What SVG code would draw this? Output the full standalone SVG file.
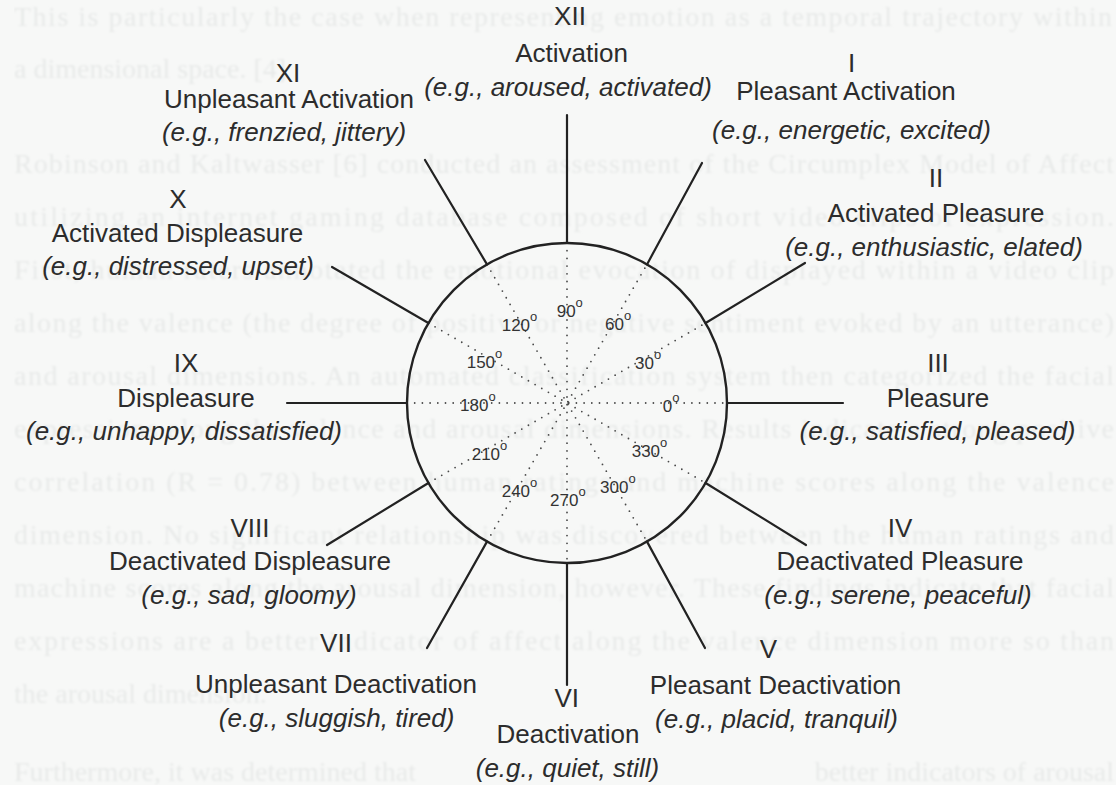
<svg xmlns="http://www.w3.org/2000/svg" width="1116" height="785" viewBox="0 0 1116 785">
<style>
.bg{font-family:"Liberation Serif","Times New Roman",serif;font-size:28px;fill:#e8eae9}
.lab{font-family:"Liberation Sans",Arial,sans-serif;font-size:26px;fill:#2c2c2c;text-anchor:middle}
.ex{font-style:italic}
.deg{font-family:"Liberation Sans",Arial,sans-serif;font-size:17px;fill:#333}
.sup{font-size:13px}
.spoke{stroke:#222;stroke-width:2.2;fill:none;stroke-linecap:round}
.dot{stroke:#4a4a4a;stroke-width:1.8;stroke-dasharray:0 7.7;stroke-linecap:round;fill:none}
</style>
<defs>
<filter id="soft" x="0" y="0" width="1" height="1"><feGaussianBlur stdDeviation="0.9"/></filter>
</defs>
<rect width="1116" height="785" fill="#f7f8f7"/>
<g id="background-text" class="bg" filter="url(#soft)">
<text x="14" y="26" textLength="1098" lengthAdjust="spacing">This is particularly the case when representing emotion as a temporal trajectory within</text>
<text x="14" y="78">a dimensional space. [4]</text>
<text x="14" y="173" textLength="1100" lengthAdjust="spacing">Robinson and Kaltwasser [6] conducted an assessment of the Circumplex Model of Affect</text>
<text x="14" y="226" textLength="1100" lengthAdjust="spacing">utilizing an internet gaming database composed of short video clips of expression.</text>
<text x="14" y="279" textLength="1100" lengthAdjust="spacing">First, human raters annotated the emotional evocation of displayed within a video clip</text>
<text x="14" y="332" textLength="1100" lengthAdjust="spacing">along the valence (the degree of positive or negative sentiment evoked by an utterance)</text>
<text x="14" y="385" textLength="1100" lengthAdjust="spacing">and arousal dimensions. An automated classification system then categorized the facial</text>
<text x="14" y="438" textLength="1100" lengthAdjust="spacing">expressions along the valence and arousal dimensions. Results indicate a strong positive</text>
<text x="14" y="491" textLength="1100" lengthAdjust="spacing">correlation (R = 0.78) between human ratings and machine scores along the valence</text>
<text x="14" y="544" textLength="1100" lengthAdjust="spacing">dimension. No significant relationship was discovered between the human ratings and</text>
<text x="14" y="597" textLength="1100" lengthAdjust="spacing">machine scores along the arousal dimension, however. These findings indicate that facial</text>
<text x="14" y="650" textLength="1100" lengthAdjust="spacing">expressions are a better indicator of affect along the valence dimension more so than</text>
<text x="14" y="703">the arousal dimension.</text>
<text x="14" y="781">Furthermore, it was determined that</text>
<text x="1114" y="781" text-anchor="end">better indicators of arousal</text>
</g>
<g id="circumplex">
<g id="dotted-axes" class="dot">
<line x1="407" y1="403" x2="727" y2="403"/>
<line x1="567" y1="243" x2="567" y2="563"/>
<line x1="428.4" y1="323" x2="705.6" y2="483"/>
<line x1="428.4" y1="483" x2="705.6" y2="323"/>
<line x1="487" y1="264.4" x2="647" y2="541.6"/>
<line x1="487" y1="541.6" x2="647" y2="264.4"/>
</g>
<circle cx="567" cy="403" r="160" fill="none" stroke="#222" stroke-width="2.4"/>
<g id="degree-labels" class="deg">
<text x="556.7" y="317.3">90<tspan class="sup" dy="-10">o</tspan></text>
<text x="605" y="330">60<tspan class="sup" dy="-10">o</tspan></text>
<text x="501.7" y="330.7">120<tspan class="sup" dy="-10">o</tspan></text>
<text x="466.7" y="368.3">150<tspan class="sup" dy="-10">o</tspan></text>
<text x="635" y="369">30<tspan class="sup" dy="-10">o</tspan></text>
<text x="460" y="410.7">180<tspan class="sup" dy="-10">o</tspan></text>
<text x="662.7" y="411.7">0<tspan class="sup" dy="-10">o</tspan></text>
<text x="471.7" y="460">210<tspan class="sup" dy="-10">o</tspan></text>
<text x="631.7" y="456.7">330<tspan class="sup" dy="-10">o</tspan></text>
<text x="501.7" y="496.7">240<tspan class="sup" dy="-10">o</tspan></text>
<text x="600" y="492.7">300<tspan class="sup" dy="-10">o</tspan></text>
<text x="550" y="506">270<tspan class="sup" dy="-10">o</tspan></text>
</g>
</g>
<g id="connectors" class="spoke">
<line x1="727" y1="403" x2="843" y2="403"/>
<line x1="705.6" y1="323" x2="805" y2="263"/>
<line x1="647" y1="264.4" x2="702" y2="163"/>
<line x1="567" y1="243" x2="567" y2="115"/>
<line x1="487" y1="264.4" x2="425" y2="160"/>
<line x1="428.4" y1="323" x2="332" y2="267"/>
<line x1="407" y1="403" x2="287" y2="403"/>
<line x1="428.4" y1="483" x2="327" y2="545"/>
<line x1="487" y1="541.6" x2="427" y2="648"/>
<line x1="567" y1="563" x2="567" y2="685"/>
<line x1="647" y1="541.6" x2="705" y2="648"/>
<line x1="705.6" y1="483" x2="806" y2="545"/>
</g>
<g id="node-XII" class="lab">
<text x="570" y="25">XII</text>
<text x="571.5" y="62">Activation</text>
<text class="ex" x="568" y="96">(e.g., aroused, activated)</text>
</g>
<g id="node-I" class="lab">
<text x="851.5" y="72">I</text>
<text x="846" y="100">Pleasant Activation</text>
<text class="ex" x="851.5" y="139">(e.g., energetic, excited)</text>
</g>
<g id="node-II" class="lab">
<text x="936" y="187">II</text>
<text x="936" y="221.7">Activated Pleasure</text>
<text class="ex" x="934" y="256">(e.g., enthusiastic, elated)</text>
</g>
<g id="node-III" class="lab">
<text x="938" y="372">III</text>
<text x="938" y="406.7">Pleasure</text>
<text class="ex" x="937.5" y="440">(e.g., satisfied, pleased)</text>
</g>
<g id="node-IV" class="lab">
<text x="900" y="537">IV</text>
<text x="900" y="570">Deactivated Pleasure</text>
<text class="ex" x="898" y="604">(e.g., serene, peaceful)</text>
</g>
<g id="node-V" class="lab">
<text x="768.5" y="658">V</text>
<text x="775.6" y="694">Pleasant Deactivation</text>
<text class="ex" x="776.5" y="728">(e.g., placid, tranquil)</text>
</g>
<g id="node-VI" class="lab">
<text x="566.7" y="706.7">VI</text>
<text x="568" y="743.3">Deactivation</text>
<text class="ex" x="567.5" y="777">(e.g., quiet, still)</text>
</g>
<g id="node-VII" class="lab">
<text x="336" y="652">VII</text>
<text x="336" y="693">Unpleasant Deactivation</text>
<text class="ex" x="336.6" y="727">(e.g., sluggish, tired)</text>
</g>
<g id="node-VIII" class="lab">
<text x="250" y="537">VIII</text>
<text x="250" y="570">Deactivated Displeasure</text>
<text class="ex" x="249" y="604">(e.g., sad, gloomy)</text>
</g>
<g id="node-IX" class="lab">
<text x="186" y="371.7">IX</text>
<text x="186" y="406.7">Displeasure</text>
<text class="ex" x="184" y="440">(e.g., unhappy, dissatisfied)</text>
</g>
<g id="node-X" class="lab">
<text x="178" y="208">X</text>
<text x="177.5" y="241.7">Activated Displeasure</text>
<text class="ex" x="178" y="275">(e.g., distressed, upset)</text>
</g>
<g id="node-XI" class="lab">
<text x="288" y="82">XI</text>
<text x="289" y="107.5">Unpleasant Activation</text>
<text class="ex" x="284" y="141">(e.g., frenzied, jittery)</text>
</g>
</svg>
